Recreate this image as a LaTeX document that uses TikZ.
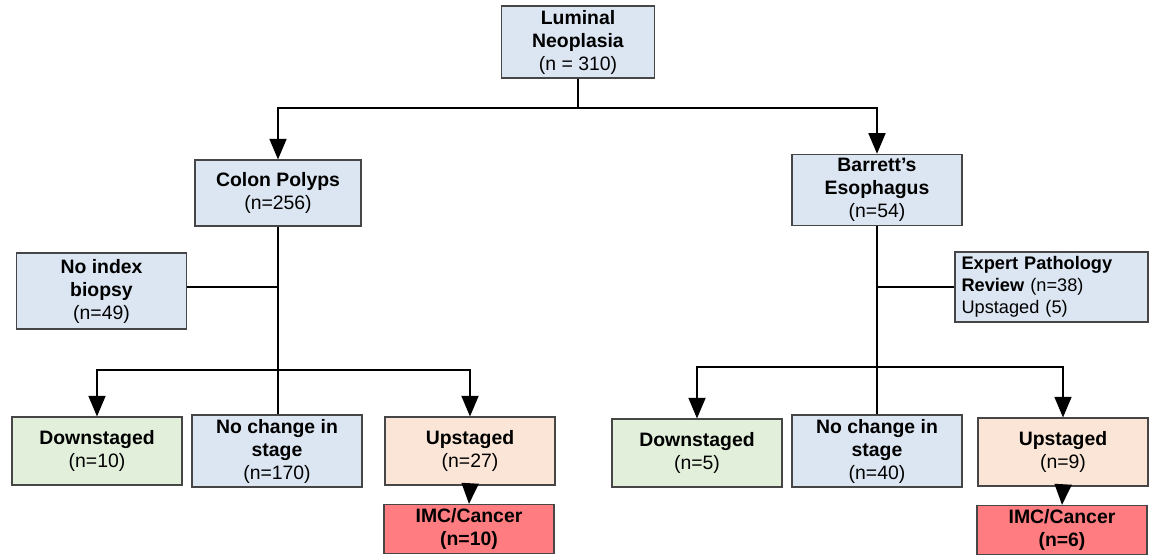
\documentclass[tikz,border=0pt]{standalone}
\usepackage{fontspec}
\setmainfont{Liberation Sans}
\usepackage{xcolor}
\usetikzlibrary{arrows}

\definecolor{boxblue}{RGB}{220,230,242}
\definecolor{boxgreen}{RGB}{226,239,218}
\definecolor{boxpeach}{RGB}{251,229,214}
\definecolor{boxred}{RGB}{255,124,128}
\definecolor{boxline}{RGB}{70,70,70}

\begin{document}
\begin{tikzpicture}[x=0.5pt,y=-0.5pt,semithick,>=triangle 45]
    \tikzstyle{box}=[draw=boxline, line width=0.6pt, align=center, inner sep=2pt,
        minimum width=85pt, minimum height=34pt,
        font=\fontsize{9.7}{11.5}\selectfont]
    \tikzstyle{blue box}=[box, fill=boxblue]
    \tikzstyle{green box}=[box, fill=boxgreen]
    \tikzstyle{peach box}=[box, fill=boxpeach]
    \tikzstyle{red box}=[box, fill=boxred, minimum height=24pt]
    \tikzstyle{link}=[line width=1.4pt, black]
    \tikzstyle{arrow}=[link, ->]

    \useasboundingbox (0,0) rectangle (1152,558);

    % top
    \node[blue box, minimum width=76.5pt] (LN) at (578,42) {\textbf{Luminal}\\\textbf{Neoplasia}\\(n = 310)};
    \node[blue box, minimum width=83pt, minimum height=33pt] (CP) at (278,193) {\textbf{Colon Polyps}\\(n=256)};
    \node[blue box] (BE) at (877,190) {\textbf{Barrett’s}\\\textbf{Esophagus}\\(n=54)};

    % side boxes
    \node[blue box, minimum height=38pt] (NI) at (101.5,291) {\textbf{No index}\\\textbf{biopsy}\\(n=49)};
    \node[blue box, align=left, minimum width=96.5pt, minimum height=35pt, text width=90pt,
        font=\fontsize{9.1}{11}\selectfont] (EP) at (1051.5,287) {\textbf{Expert Pathology}\\\textbf{Review} (n=38)\\Upstaged (5)};

    % colon polyps outcomes
    \node[green box] (DL) at (97,451) {\textbf{Downstaged}\\(n=10)};
    \node[blue box] (NL) at (277,451) {\textbf{No change in}\\\textbf{stage}\\(n=170)};
    \node[peach box] (UL) at (470,451) {\textbf{Upstaged}\\(n=27)};
    \node[red box] (IL) at (469,529) {\textbf{IMC/Cancer}\\\textbf{(n=10)}};

    % barrett outcomes
    \node[green box] (DR) at (697,453) {\textbf{Downstaged}\\(n=5)};
    \node[blue box] (NR) at (877,451) {\textbf{No change in}\\\textbf{stage}\\(n=40)};
    \node[peach box] (UR) at (1063,452) {\textbf{Upstaged}\\(n=9)};
    \node[red box] (IR) at (1062,530) {\textbf{IMC/Cancer}\\\textbf{(n=6)}};

    \coordinate (top split) at (578,108);
    \coordinate (left split) at (278,370);
    \coordinate (right split) at (877,367);

    \draw[link] (LN.south) -- (top split);
    \draw[arrow] (top split) -| (CP.north);
    \draw[arrow] (top split) -| (BE.north);

    \draw[link] ([yshift=2pt]NI.east) -- ([yshift=2pt]NI.east -| CP.south);
    \draw[link] (CP.south) -- (left split);
    \draw[arrow] (left split) -| (DL.north);
    \draw[arrow] (left split) -| (UL.north);
    \draw[link] (left split) -- (left split |- NL.north);
    \draw[arrow] (UL.south) -- (IL.north);

    \draw[link] (BE.south) -- (right split);
    \draw[link] (EP.west) -- (EP.west -| BE.south);
    \draw[arrow] (right split) -| (DR.north);
    \draw[arrow] (right split) -| (UR.north);
    \draw[link] (right split) -- (right split |- NR.north);
    \draw[arrow] (UR.south) -- (IR.north);
\end{tikzpicture}
\end{document}
